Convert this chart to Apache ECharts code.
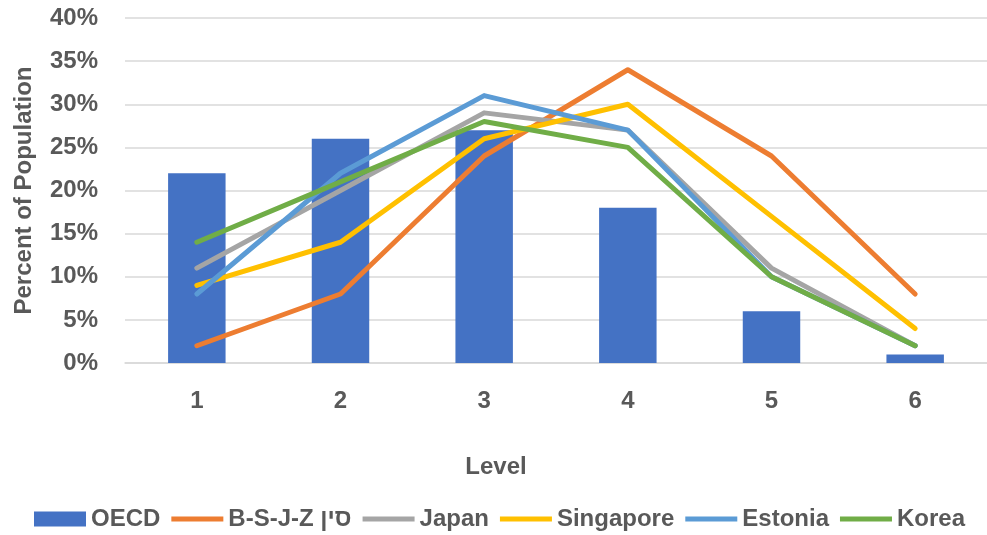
<!DOCTYPE html>
<html>
<head>
<meta charset="utf-8">
<script src="https://cdn.jsdelivr.net/npm/echarts@6/dist/echarts.min.js"></script>
<style>
  html, body { margin: 0; padding: 0; background: #fff; }
  #chart { width: 987px; height: 535px; }
</style>
</head>
<body>
<div id="chart"></div>
<script>
// Proficiency levels on the x axis
const levels = ['1', '2', '3', '4', '5', '6'];

// Share of students at each level, in percent
const oecd = [22, 26, 27, 18, 6, 1];
const bsjz = [2, 8, 24, 34, 24, 8];
const japan = [11, 20, 29, 27, 11, 2];
const singapore = [9, 14, 26, 30, 17, 4];
const estonia = [8, 22, 31, 27, 10, 2];
const korea = [14, 21, 28, 25, 10, 2];

const seriesNames = ['OECD', 'B-S-J-Z סין', 'Japan', 'Singapore', 'Estonia', 'Korea'];
const colors = ['#4472C4', '#ED7D31', '#A5A5A5', '#FFC000', '#5B9BD5', '#70AD47'];

const FONT = '"Liberation Sans", Arial, sans-serif';
const TEXT = '#595959';
const FS = 24;

// Legend swatch for a line series: a thin stroke centred in the 52x15 icon box
const LINE_ICON = 'path://M0,0L0,0M0,5L52,5L52,10L0,10ZM52,15L52,15';

function lineSeries(name, data, color) {
  return {
    name: name,
    type: 'line',
    data: data,
    symbol: 'none',
    showSymbol: false,
    lineStyle: { width: 5, color: color, cap: 'round', join: 'round' },
    itemStyle: { color: color },
    z: 3
  };
}

const legendData = seriesNames.map(function (n, i) {
  return i === 0 ? { name: n, icon: 'rect' } : { name: n, icon: LINE_ICON };
});

const chart = echarts.init(document.getElementById('chart'), null, { renderer: 'canvas' });

chart.setOption({
  animation: false,
  backgroundColor: '#fff',
  textStyle: { fontFamily: FONT, fontWeight: 'bold', color: TEXT },
  grid: { left: 125, right: -9, top: 18, bottom: 172, containLabel: false },
  legend: {
    data: legendData,
    left: 34,
    top: 507,
    padding: 0,
    itemWidth: 52,
    itemHeight: 15,
    itemGap: 11,
    textStyle: { fontFamily: FONT, fontWeight: 'bold', fontSize: FS, color: TEXT }
  },
  xAxis: {
    type: 'category',
    data: levels,
    name: 'Level',
    nameLocation: 'middle',
    nameGap: 92,
    nameTextStyle: { fontFamily: FONT, fontWeight: 'bold', fontSize: FS, color: TEXT, padding: [0, 120, 0, 0] },
    axisLine: { show: true, lineStyle: { color: '#D9D9D9', width: 1.5 } },
    axisTick: { show: false },
    axisLabel: { fontFamily: FONT, fontWeight: 'bold', fontSize: FS, color: TEXT, margin: 26 }
  },
  yAxis: {
    type: 'value',
    min: 0,
    max: 40,
    interval: 5,
    name: 'Percent of Population',
    nameLocation: 'middle',
    nameGap: 89,
    nameTextStyle: { fontFamily: FONT, fontWeight: 'bold', fontSize: FS, color: TEXT },
    axisLine: { show: false },
    axisTick: { show: false },
    axisLabel: { formatter: '{value}%', fontFamily: FONT, fontWeight: 'bold', fontSize: FS, color: TEXT, margin: 27 },
    splitLine: { lineStyle: { color: '#D9D9D9', width: 1.5 } }
  },
  series: [
    {
      name: seriesNames[0],
      type: 'bar',
      data: oecd,
      barWidth: '40%',
      itemStyle: { color: colors[0] },
      z: 2
    },
    lineSeries(seriesNames[1], bsjz, colors[1]),
    lineSeries(seriesNames[2], japan, colors[2]),
    lineSeries(seriesNames[3], singapore, colors[3]),
    lineSeries(seriesNames[4], estonia, colors[4]),
    lineSeries(seriesNames[5], korea, colors[5])
  ]
});
</script>
</body>
</html>
